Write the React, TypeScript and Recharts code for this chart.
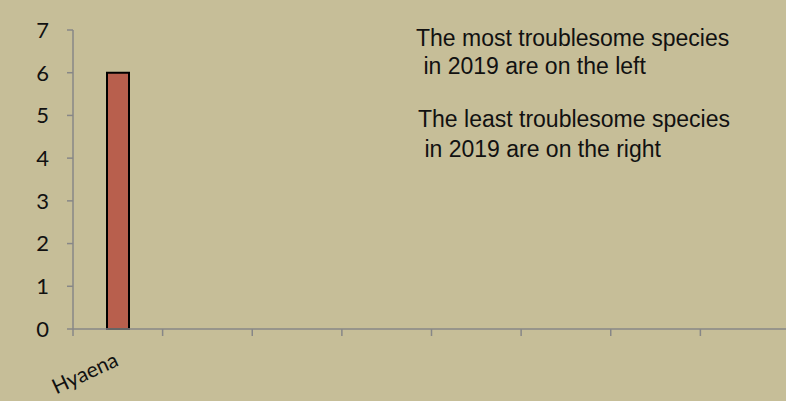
import { Bar, BarChart, XAxis, YAxis } from 'recharts'

// species along the axis, most troublesome on the left
const species = ['Hyaena', '', '', '', '', '', '', '']
const incidents2019 = [6, null, null, null, null, null, null, null]
const yTicks = [0, 1, 2, 3, 4, 5, 6, 7]

const notes = [
  { text: 'The most troublesome species', x: 416, y: 46 },
  { text: ' in 2019 are on the left', x: 417, y: 74 },
  { text: 'The least troublesome species', x: 418, y: 127 },
  { text: ' in 2019 are on the right', x: 418, y: 157 },
]

const AXIS = '#878787'
const BG = '#C6BE98'

function CategoryTick(props: any) {
  const { x, y, payload } = props
  const edge = x - (payload.offset ?? 0)
  // y is already pushed down by tickSize + tickMargin, pull the tick mark back to the axis
  return (
    <g>
      <line x1={edge} y1={y - 8} x2={edge} y2={y - 1} stroke={AXIS} strokeWidth={1.5} />
      {payload.value ? (
        <text
          x={x + 2}
          y={y + 28}
          textAnchor='end'
          fontFamily='Lato, sans-serif'
          fontSize={21}
          fill='#111'
          transform={`rotate(-25 ${x + 2} ${y + 28})`}
        >
          {payload.value}
        </text>
      ) : null}
    </g>
  )
}

export default function App() {
  const data = species.map((name, i) => ({ name, value: incidents2019[i] }))
  return (
    <div
      style={{
        position: 'absolute',
        left: 0,
        top: 0,
        width: 786,
        height: 401,
        overflow: 'hidden',
        background: BG,
      }}
    >
      <BarChart
        width={790}
        height={401}
        data={data}
        margin={{ top: 30, right: 0, bottom: 0, left: 0 }}
        barCategoryGap={0}
      >
        <XAxis
          dataKey='name'
          height={72}
          stroke={AXIS}
          axisLine={{ stroke: AXIS, strokeWidth: 1.5 }}
          tickLine={false}
          interval={0}
          tick={<CategoryTick />}
        />
        <YAxis
          width={73}
          domain={[0, 7]}
          ticks={yTicks}
          interval={0}
          axisLine={{ stroke: AXIS, strokeWidth: 1.5 }}
          tickLine={{ stroke: AXIS, strokeWidth: 1.5 }}
          tickSize={6}
          tickMargin={18}
          tick={{ fill: '#111', fontSize: 22, fontFamily: 'Lato, sans-serif' }}
        />
        <Bar
          dataKey='value'
          barSize={22}
          fill='#B85F4D'
          stroke='#000'
          strokeWidth={2}
          isAnimationActive={false}
        />
      </BarChart>
      <svg
        width={786}
        height={401}
        style={{ position: 'absolute', left: 0, top: 0, pointerEvents: 'none' }}
      >
        {notes.map((n) => (
          <text
            key={n.text}
            x={n.x}
            y={n.y}
            fontFamily='"Liberation Sans", Arial, sans-serif'
            fontSize={23}
            fill='#111'
            style={{ whiteSpace: 'pre' }}
          >
            {n.text}
          </text>
        ))}
      </svg>
    </div>
  )
}
